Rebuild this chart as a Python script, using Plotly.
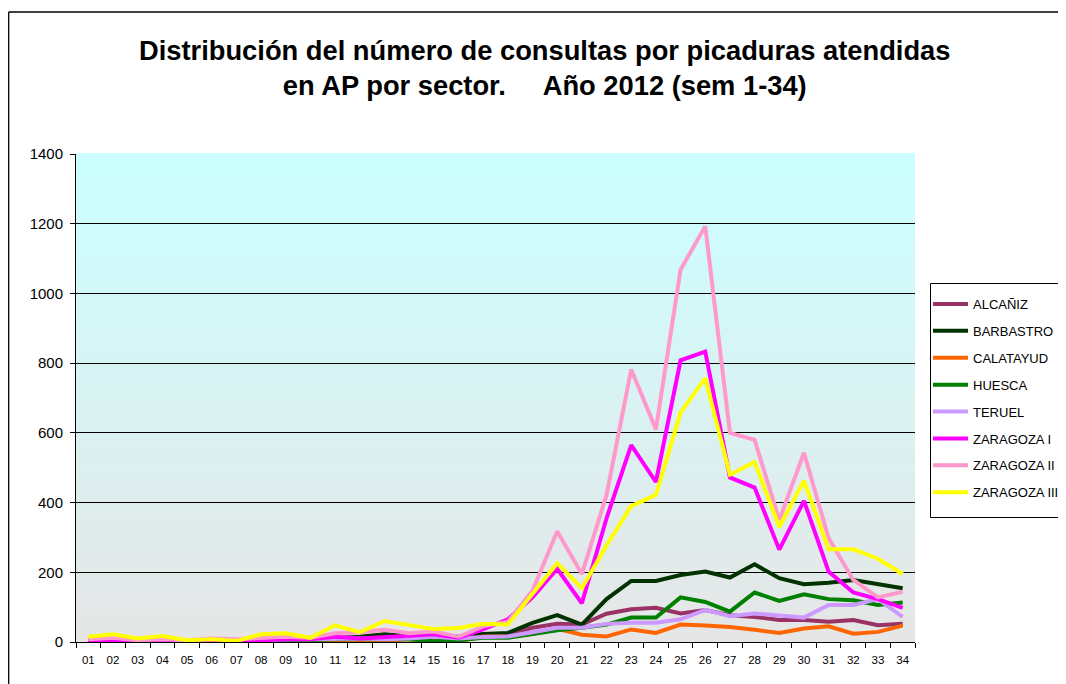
import plotly.graph_objects as go

weeks = [f"{i:02d}" for i in range(1, 35)]

alcaniz = [5,8,5,3,5,5,3,8,10,8,12,12,18,15,18,12,21,21,41,52,50,81,94,98,82,92,77,72,63,63,58,63,48,52]
barbastro = [2,3,2,2,3,3,2,5,8,8,10,15,22,18,22,15,23,26,55,77,50,123,175,175,192,202,185,223,183,166,170,178,166,154]
calatayud = [0,2,0,0,2,2,0,0,2,3,3,2,3,8,3,2,16,16,23,38,21,16,36,26,50,47,43,35,26,39,45,24,29,47]
huesca = [2,3,2,2,2,2,0,2,5,5,8,8,10,8,2,5,12,12,23,34,41,50,70,70,128,115,87,142,118,137,123,120,106,113]
teruel = [2,2,2,3,3,3,2,5,8,8,10,10,8,10,15,10,14,16,28,41,41,52,55,55,65,92,74,82,76,70,106,106,123,72]
zaragoza1 = [2,5,2,5,2,0,0,5,8,8,15,10,15,18,22,12,36,65,128,210,111,355,565,459,808,833,472,443,265,405,202,142,123,98]
zaragoza2 = [8,12,5,8,5,10,8,12,15,12,25,28,35,25,30,15,45,58,147,318,195,422,782,610,1068,1193,600,580,350,543,298,178,128,144]
zaragoza3 = [15,22,10,17,5,8,3,22,25,12,48,28,60,48,37,40,52,50,137,226,154,277,390,422,658,757,480,516,330,463,266,266,239,195]

names = ["ALCAÑIZ", "BARBASTRO", "CALATAYUD", "HUESCA", "TERUEL",
         "ZARAGOZA I", "ZARAGOZA II", "ZARAGOZA III"]
series = [alcaniz, barbastro, calatayud, huesca, teruel, zaragoza1, zaragoza2, zaragoza3]
colors = ["#993366", "#003300", "#FF6600", "#008000", "#CC99FF",
          "#FF00FF", "#FF99CC", "#FFFF00"]

y_ticks = [0, 200, 400, 600, 800, 1000, 1200, 1400]

FONT = "Liberation Sans, Arial, sans-serif"

# page has an 8px body margin: work in figure coordinates (ref - 8)
OFF = 8
W, H = 1066 - OFF, 684 - OFF
L, T = 76 - OFF, 154 - OFF
PW, PH = 839, 488

def px(xp):
    return (xp - OFF - L) / PW

def py(yp):
    return (T + PH - (yp - OFF)) / PH

def cx(xp):
    return (xp - OFF) / W

def cy(yp):
    return 1 - (yp - OFF) / H

fig = go.Figure()
for i, (n, s, c) in enumerate(zip(names, series, colors)):
    fig.add_trace(go.Scatter(x=weeks, y=s, name=n, mode="lines",
                             line=dict(color=c, width=4),
                             legendgroup=f"g{i}"))

# gradient background (bands)
shapes = []
nb = 70
top = (0xCC, 0xFF, 0xFF)
bot = (0xE6, 0xE6, 0xE6)
for k in range(nb):
    t = (k + 0.5) / nb
    col = tuple(round(bot[j] + (top[j] - bot[j]) * t) for j in range(3))
    shapes.append(dict(type="rect", xref="x domain", yref="y domain",
                       x0=0, x1=1, y0=k / nb, y1=(k + 1) / nb + 0.002,
                       fillcolor="rgb(%d,%d,%d)" % col, line=dict(width=0),
                       layer="below"))
# outer frame (left and top edges)
shapes.append(dict(type="line", xref="paper", yref="paper",
                   x0=px(8.7), x1=px(8.7), y0=py(12), y1=py(700),
                   line=dict(color="#000", width=1.3)))
shapes.append(dict(type="line", xref="paper", yref="paper",
                   x0=px(8.7), x1=px(1080), y0=py(12), y1=py(12),
                   line=dict(color="#000", width=1.3)))
# legend box
shapes.append(dict(type="rect", xref="paper", yref="paper",
                   x0=px(930.5), x1=px(1080), y0=py(283.5), y1=py(517.5),
                   fillcolor="white", line=dict(color="#000", width=1)))

fig.update_layout(
    width=W, height=H,
    margin=dict(l=L, r=W - L - PW, t=T, b=H - T - PH),
    paper_bgcolor="white",
    plot_bgcolor="#E6E6E6",
    font=dict(family=FONT, color="#000", size=12),
    shapes=shapes,
    showlegend=True,
    legend=dict(xref="container", yref="container",
                x=cx(928), y=cy(289), xanchor="left", yanchor="top",
                bgcolor="rgba(0,0,0,0)", borderwidth=0,
                font=dict(family=FONT, size=13, color="#000"),
                traceorder="grouped", tracegroupgap=7,
                itemwidth=35),
    annotations=[dict(
        text="Distribución del número de consultas por picaduras atendidas<br>en AP por sector.     Año 2012 (sem 1-34)",
        xref="paper", yref="paper", x=px(544), y=py(33), xanchor="center", yanchor="top",
        showarrow=False, align="center",
        font=dict(family=FONT, size=27.3, color="#000", weight="bold"))],
)
fig.update_xaxes(
    type="category", tickson="boundaries", ticks="outside", ticklen=5,
    tickcolor="#000", showline=True, linecolor="#000", linewidth=1,
    showgrid=False, tickfont=dict(size=11.5, family=FONT), range=[-0.5, 33.5],
    ticklabelstandoff=7,
)
fig.update_yaxes(
    range=[0, 1400], tickvals=y_ticks, ticks="outside", ticklen=5,
    tickcolor="#000", showline=True, linecolor="#000", linewidth=1,
    showgrid=True, gridcolor="#000", gridwidth=1, zeroline=False,
    tickfont=dict(size=15, family=FONT), ticklabelstandoff=4,
)

fig.write_html("out.html")
